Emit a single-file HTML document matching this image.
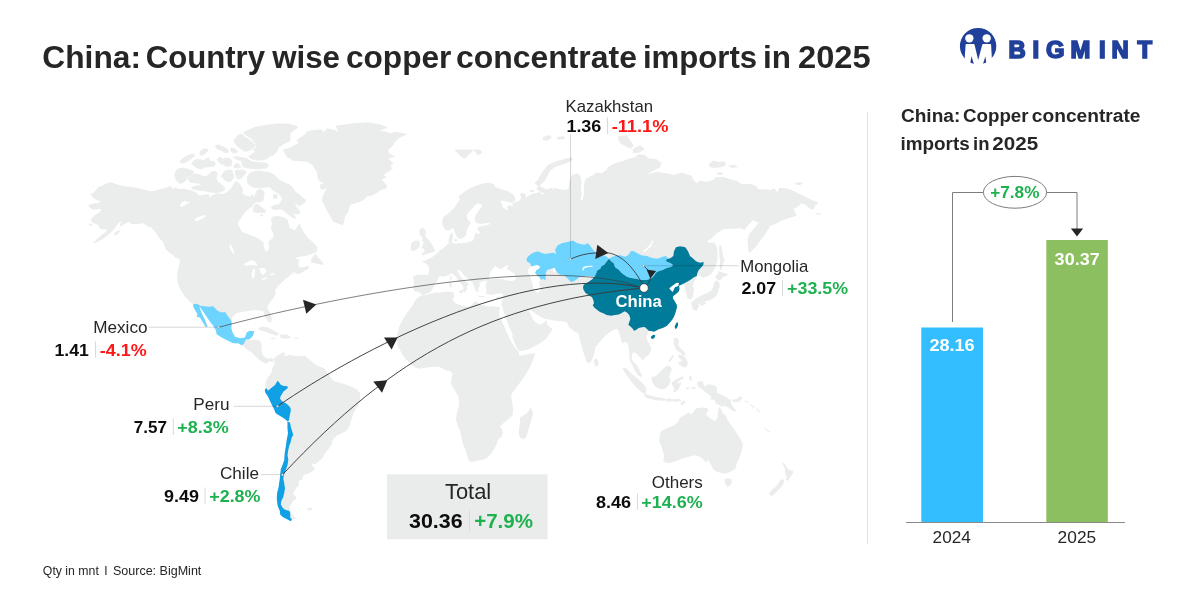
<!DOCTYPE html>
<html lang="en">
<head>
<meta charset="utf-8">
<title>China: Country wise copper concentrate imports in 2025</title>
<style>
html,body{margin:0;padding:0;background:#fff;}
body{width:1200px;height:600px;overflow:hidden;font-family:"Liberation Sans",sans-serif;}
svg{display:block;}
svg text{font-family:"Liberation Sans",sans-serif;}
</style>
</head>
<body>
<svg width="1200" height="600" viewBox="0 0 1200 600">
<rect width="1200" height="600" fill="#ffffff"/>
<!-- world map -->
<g id="map">
<path d="M282.5 150.0 L290.0 147.5 L298.3 143.3 L296.7 140.0 L305.0 134.2 L307.5 130.8 L321.7 129.2 L323.3 132.5 L326.7 128.3 L335.0 130.0 L338.3 131.7 L335.8 125.8 L353.3 123.3 L368.3 122.2 L380.0 124.2 L387.5 127.5 L380.0 130.8 L386.7 131.7 L390.0 133.3 L396.7 131.7 L407.5 134.2 L400.0 137.5 L395.0 141.7 L393.3 145.0 L388.3 150.0 L389.2 153.3 L395.0 156.7 L388.3 158.3 L393.3 163.3 L390.0 166.7 L393.3 168.3 L388.3 171.7 L383.3 175.0 L386.7 176.7 L381.7 180.0 L386.7 185.0 L386.7 188.3 L380.0 190.8 L373.3 195.0 L366.7 196.7 L363.3 200.0 L360.0 201.7 L350.0 205.0 L348.3 211.7 L345.0 216.7 L343.3 224.2 L341.7 225.0 L333.3 221.7 L328.3 213.3 L325.0 206.7 L321.7 200.0 L323.3 195.0 L326.7 188.3 L320.0 186.7 L323.3 183.3 L318.3 180.0 L316.7 171.7 L311.7 164.2 L306.7 161.7 L293.3 160.8 L286.7 156.7 L283.3 150.8Z M142.7 189.3 L133.3 187.3 L124.0 186.0 L117.3 184.4 L110.9 182.3 L106.7 183.3 L102.0 185.7 L98.0 187.3 L96.0 190.0 L93.3 192.7 L90.7 193.7 L91.3 196.0 L94.7 198.7 L98.0 200.4 L100.0 200.9 L99.7 202.7 L96.0 203.1 L92.0 204.0 L88.0 205.3 L90.0 208.0 L93.3 209.7 L98.0 209.3 L100.7 208.7 L101.1 210.7 L98.7 212.7 L95.3 214.7 L92.7 217.3 L90.7 220.0 L92.7 222.7 L96.0 224.0 L98.7 225.3 L99.3 228.0 L101.3 229.3 L104.7 229.3 L107.3 230.0 L104.7 232.7 L101.3 235.3 L97.3 238.7 L94.0 242.0 L93.1 243.6 L94.7 243.3 L98.7 241.3 L102.7 239.1 L106.7 236.0 L110.0 233.3 L113.3 230.0 L116.0 226.7 L118.4 223.3 L120.0 221.7 L121.3 222.3 L120.0 224.7 L120.7 226.7 L123.3 224.7 L126.7 223.1 L128.3 221.7 L130.0 222.7 L130.7 224.0 L133.3 224.0 L138.7 224.0 L142.7 223.3 L145.3 224.7 L148.0 226.7 L150.7 227.3 L153.3 230.0 L156.0 232.7 L158.0 236.0 L160.0 239.3 L162.7 241.3 L164.0 244.7 L165.3 248.7 L170.0 253.3 L173.3 255.0 L177.5 260.8 L175.8 256.7 L180.0 260.0 L179.2 265.0 L177.5 271.7 L177.0 278.3 L178.3 285.0 L180.8 290.0 L185.0 296.7 L190.0 301.7 L193.3 304.2 L193.3 306.7 L195.0 310.0 L197.5 314.2 L196.7 316.7 L200.0 317.5 L202.5 321.7 L205.8 327.0 L207.5 326.7 L205.0 320.0 L201.7 313.3 L199.2 306.7 L200.3 307.5 L203.3 311.7 L206.7 316.7 L210.0 321.7 L213.3 325.8 L215.8 330.0 L216.7 334.2 L221.7 337.5 L226.7 340.0 L233.3 343.3 L238.3 343.3 L241.7 345.3 L241.7 345.0 L246.7 349.2 L251.7 352.5 L255.8 356.7 L259.2 360.0 L263.3 362.5 L266.7 363.7 L269.2 361.3 L272.5 361.7 L275.0 364.2 L274.2 359.7 L271.7 358.0 L268.3 358.7 L265.0 357.5 L262.5 354.2 L261.3 350.0 L262.0 345.0 L260.0 340.8 L255.0 339.7 L250.0 340.0 L248.3 338.3 L250.8 338.3 L253.3 335.0 L254.2 331.3 L250.0 330.8 L246.7 332.5 L245.0 337.5 L240.0 338.3 L235.0 336.7 L232.5 332.5 L231.3 328.3 L231.7 323.3 L232.5 316.7 L236.7 313.0 L243.3 311.7 L250.0 310.8 L255.0 310.0 L260.0 310.8 L263.0 311.3 L264.2 314.2 L265.8 318.3 L268.3 321.7 L270.8 322.5 L272.0 319.2 L270.8 314.2 L268.7 310.0 L267.0 307.0 L269.2 303.3 L273.3 298.3 L275.8 293.3 L275.0 290.0 L278.3 285.8 L281.7 282.5 L285.0 279.2 L288.3 276.7 L293.3 273.3 L297.5 271.7 L288.3 276.7 L293.3 271.7 L295.8 272.8 L297.5 274.5 L303.3 271.7 L309.2 268.3 L308.3 265.8 L301.7 267.5 L299.2 266.7 L298.3 263.3 L300.0 260.0 L295.0 258.3 L293.3 258.3 L300.0 256.7 L306.7 255.8 L313.3 253.3 L316.7 251.7 L317.5 247.5 L313.3 242.5 L308.3 238.3 L305.0 234.2 L301.7 228.3 L299.2 223.3 L295.8 229.2 L293.3 230.0 L290.8 227.5 L290.0 228.7 L288.7 224.0 L287.3 219.3 L283.3 217.3 L278.0 216.0 L272.7 216.4 L271.3 218.0 L271.3 222.0 L272.0 223.3 L270.8 228.3 L273.3 233.3 L273.3 237.5 L268.3 241.7 L269.2 248.3 L266.7 252.0 L264.2 248.3 L263.3 241.7 L256.7 237.5 L248.3 234.2 L241.7 231.7 L238.3 225.0 L238.0 222.0 L242.0 216.7 L244.7 212.7 L247.3 210.0 L251.3 207.3 L254.7 203.3 L256.7 202.0 L259.3 202.7 L263.3 200.7 L264.0 196.7 L264.7 192.7 L262.0 189.3 L256.7 190.0 L255.3 194.0 L253.7 196.7 L252.0 194.0 L250.0 196.7 L244.7 195.3 L242.0 192.7 L243.3 190.0 L242.0 187.3 L239.3 183.3 L236.0 180.7 L234.0 183.3 L230.7 188.7 L227.3 192.0 L223.3 194.0 L216.7 193.3 L212.0 195.3 L210.0 198.0 L208.7 194.0 L203.3 195.1 L198.7 195.3 L196.7 192.7 L190.0 190.0 L183.3 188.7 L178.0 189.3 L176.0 187.3 L172.7 188.7 L170.7 185.7 L168.0 187.1 L162.7 188.7 L157.3 190.0 L153.3 191.3 L149.3 191.1Z M272.7 194.7 L276.0 193.7 L278.0 196.0 L276.7 198.7 L273.3 198.7Z M260.0 214.7 L262.7 214.0 L263.3 216.0 L260.7 216.7Z M319.3 185.3 L322.0 184.0 L325.3 185.3 L326.0 188.0 L323.3 190.0 L320.7 189.3Z M88.7 224.0 L92.0 223.6 L92.3 225.3 L89.1 225.7Z M114.0 233.3 L118.7 230.0 L120.0 231.3 L116.7 235.3 L114.4 235.3Z M315.0 253.3 L318.3 257.5 L322.5 261.7 L323.3 265.0 L319.2 264.2 L315.0 263.3 L310.8 262.5 L311.7 258.3 L314.2 255.0Z M294.2 337.5 L297.5 337.5 L297.5 338.7 L294.2 338.7Z M270.8 338.0 L275.0 338.0 L275.0 339.2 L270.8 339.2Z M274.2 364.2 L273.3 360.0 L276.7 355.8 L280.0 354.2 L283.3 352.5 L285.0 352.5 L284.2 356.7 L288.3 355.0 L293.3 355.8 L300.0 356.3 L305.0 355.8 L306.7 357.5 L310.0 360.0 L315.0 364.2 L320.0 366.7 L324.2 368.3 L328.3 373.3 L330.8 377.5 L333.3 380.8 L338.3 382.5 L345.0 384.2 L351.7 386.7 L357.5 390.0 L360.0 393.3 L360.0 400.0 L357.5 406.7 L353.3 413.3 L352.5 416.7 L350.8 421.7 L349.2 426.7 L346.7 430.8 L341.7 433.3 L336.7 435.8 L332.5 440.0 L331.7 444.2 L329.2 448.3 L325.0 453.3 L322.5 458.3 L318.3 461.7 L315.0 464.2 L311.7 463.3 L312.5 466.7 L315.0 467.5 L313.3 470.8 L309.2 473.3 L305.0 474.2 L302.5 476.7 L303.3 479.2 L300.0 480.0 L298.3 482.5 L299.2 485.0 L295.8 488.3 L294.2 491.7 L293.7 491.5 L293.1 494.4 L296.0 496.2 L296.0 499.1 L293.1 500.8 L291.3 504.3 L289.6 506.7 L290.2 510.2 L292.5 514.8 L294.8 517.8 L297.2 518.3 L293.7 519.5 L291.9 519.5 L290.8 521.3 L286.7 518.9 L283.2 517.2 L280.3 514.8 L279.7 510.2 L277.9 506.7 L277.3 503.2 L276.8 498.5 L277.1 492.7 L278.5 488.0 L279.1 483.3 L279.7 479.8 L280.3 474.0 L280.8 469.3 L282.6 464.7 L284.3 460.0 L284.7 453.3 L285.8 446.7 L286.7 440.0 L288.0 433.3 L287.5 428.3 L287.5 421.7 L285.0 419.2 L280.0 415.8 L275.8 412.5 L272.5 406.7 L270.0 400.0 L267.5 393.3 L265.8 389.2 L265.0 385.8 L265.8 381.7 L267.5 377.5 L270.0 375.0 L271.7 371.7 L272.5 368.3Z M307.1 509.0 L310.0 507.6 L312.9 508.4 L311.2 510.2 L307.7 510.4Z M489.3 182.7 L493.3 184.0 L496.0 187.3 L501.3 189.3 L508.0 191.3 L513.3 194.7 L515.3 198.0 L514.7 201.3 L512.0 202.7 L508.0 202.0 L504.0 200.9 L500.0 200.4 L502.0 204.0 L502.7 207.3 L506.7 210.0 L508.0 209.3 L506.7 206.7 L509.3 205.3 L513.3 206.7 L512.0 204.0 L516.0 202.0 L519.3 200.7 L521.3 198.0 L520.0 194.0 L523.3 192.7 L526.0 194.7 L525.3 198.0 L528.0 196.0 L532.0 194.0 L537.3 192.7 L540.0 192.0 L541.7 194.2 L546.7 192.5 L551.7 190.0 L555.0 193.3 L553.3 187.5 L556.7 188.3 L563.3 190.0 L568.3 189.2 L569.2 183.3 L570.0 178.3 L573.3 173.3 L573.3 175.0 L576.7 173.3 L580.0 175.0 L581.7 181.7 L580.8 188.3 L581.7 195.0 L580.0 200.8 L582.5 200.0 L584.2 193.3 L583.7 186.7 L585.0 180.0 L586.7 178.3 L593.3 175.0 L596.7 172.5 L601.7 173.3 L606.7 170.0 L608.3 166.7 L615.0 163.3 L623.3 160.8 L630.0 158.3 L635.0 157.5 L638.3 154.2 L645.0 155.0 L648.3 158.3 L656.7 159.2 L661.7 163.3 L660.0 167.5 L656.7 169.2 L653.3 170.8 L646.7 174.2 L656.7 172.0 L666.7 173.3 L673.3 175.0 L681.7 172.5 L686.7 174.2 L691.7 175.8 L693.3 180.0 L696.7 183.3 L700.0 180.8 L706.7 181.7 L713.3 180.0 L715.0 177.5 L723.3 176.7 L730.0 179.2 L736.7 180.8 L741.7 184.2 L750.0 183.7 L755.8 185.8 L758.3 189.2 L765.0 189.2 L770.8 190.0 L774.2 188.3 L777.5 192.5 L779.2 188.0 L786.7 188.3 L793.3 190.8 L800.0 194.2 L806.7 197.5 L811.7 200.0 L816.7 201.7 L818.3 203.7 L815.0 205.8 L813.3 209.7 L809.2 208.3 L805.0 204.2 L800.8 203.3 L798.3 206.7 L793.3 209.2 L795.0 211.7 L796.7 215.8 L793.3 216.7 L788.3 218.3 L781.7 220.8 L775.0 224.2 L770.0 225.8 L768.3 229.2 L764.2 235.8 L760.0 240.8 L756.7 245.8 L751.7 250.8 L749.2 253.3 L748.0 248.3 L747.5 240.0 L749.2 234.2 L753.3 229.2 L758.3 223.3 L763.3 217.5 L765.8 216.7 L763.3 220.8 L756.7 222.5 L753.3 220.0 L750.0 223.3 L746.7 226.7 L745.0 230.0 L740.0 228.3 L733.3 228.7 L723.3 229.2 L716.7 233.3 L711.7 238.3 L706.7 241.7 L710.0 243.0 L713.3 242.3 L716.0 245.0 L717.3 249.0 L717.7 254.3 L717.3 259.7 L716.0 265.0 L714.0 269.7 L711.3 273.7 L708.0 276.3 L704.0 277.7 L701.3 277.0 L698.7 275.0 L697.1 276.3 L694.9 280.3 L692.7 285.7 L694.0 290.3 L693.3 294.3 L692.7 297.7 L690.0 299.7 L687.3 298.3 L686.7 294.3 L685.3 291.0 L685.3 287.7 L684.0 285.0 L681.3 284.7 L679.1 285.7 L679.5 289.3 L678.7 291.6 L676.0 294.0 L673.3 296.0 L672.7 298.0 L674.7 301.3 L676.7 304.7 L677.3 308.7 L677.1 306.7 L676.3 310.0 L675.3 313.3 L674.0 316.7 L672.0 320.0 L669.3 323.3 L666.7 326.0 L662.7 328.0 L658.7 329.3 L656.0 330.7 L654.0 331.7 L652.0 331.3 L649.3 331.3 L647.3 334.0 L646.7 337.3 L647.3 340.7 L649.3 344.0 L651.3 348.0 L650.7 352.0 L648.0 355.3 L644.7 358.0 L642.7 360.7 L640.7 358.0 L638.0 355.3 L635.3 352.7 L633.3 352.0 L631.6 355.3 L632.0 359.3 L634.0 362.7 L636.7 364.7 L638.7 368.7 L640.7 372.7 L642.0 376.0 L641.3 377.3 L638.0 375.3 L635.3 371.3 L633.3 367.3 L631.3 363.3 L629.7 360.7 L629.3 354.0 L628.7 347.3 L627.3 342.7 L625.3 342.0 L622.7 343.3 L621.3 340.7 L620.0 336.0 L618.7 331.3 L616.7 328.7 L613.3 330.0 L610.0 332.0 L606.0 335.3 L602.0 339.3 L598.7 343.3 L595.3 347.3 L594.7 351.3 L593.3 356.7 L591.3 361.3 L588.7 363.3 L586.7 362.0 L584.7 356.7 L582.7 350.0 L580.7 343.3 L579.3 336.7 L578.0 332.7 L575.3 332.0 L572.7 330.0 L570.0 328.0 L568.0 325.3 L566.7 322.0 L561.3 321.3 L556.0 320.7 L550.7 320.0 L546.7 318.7 L545.3 318.9 L541.3 317.3 L537.3 314.7 L533.3 312.0 L530.0 309.3 L528.9 310.4 L530.5 314.1 L532.5 318.4 L534.7 321.5 L537.3 323.5 L540.7 324.5 L543.7 322.7 L546.0 320.8 L546.5 319.7 L547.3 324.0 L549.3 326.7 L552.7 328.7 L550.7 332.0 L548.0 336.0 L545.3 340.0 L546.7 338.3 L540.0 343.3 L533.3 346.7 L526.7 350.0 L519.2 351.3 L518.3 350.0 L515.8 345.8 L512.5 338.3 L512.7 334.7 L510.0 329.3 L508.0 324.0 L506.0 318.7 L504.0 312.7 L502.4 306.7 L501.3 304.0 L502.4 300.0 L503.3 296.0 L502.7 294.0 L500.0 293.3 L495.3 294.0 L490.7 294.9 L486.0 293.3 L486.7 290.0 L485.3 286.0 L486.7 282.0 L488.0 280.0 L486.7 281.3 L484.0 280.7 L481.3 282.0 L479.3 283.3 L480.0 286.0 L478.0 288.0 L478.7 290.7 L477.3 292.7 L475.3 290.0 L474.0 286.7 L472.7 283.3 L470.7 280.7 L467.3 278.0 L464.0 275.3 L461.3 272.0 L458.7 269.3 L457.3 270.0 L458.7 273.3 L460.7 276.7 L464.0 280.0 L467.3 282.7 L469.3 284.7 L467.3 285.3 L466.7 286.7 L467.3 288.7 L466.0 290.7 L464.7 292.7 L463.3 290.7 L463.3 286.0 L461.3 284.0 L458.7 281.3 L456.7 278.0 L455.3 276.0 L453.3 274.0 L451.3 273.3 L449.3 274.7 L446.0 276.0 L442.7 276.7 L440.0 276.0 L438.7 277.3 L437.3 280.7 L434.9 284.0 L433.3 287.3 L432.0 290.0 L429.3 292.7 L425.3 294.0 L422.0 295.6 L420.0 292.7 L417.3 292.0 L414.0 291.3 L413.3 287.3 L414.0 283.3 L413.3 279.3 L413.3 276.0 L418.7 274.7 L424.0 274.7 L428.0 274.7 L428.7 272.7 L429.3 268.7 L428.0 265.3 L425.3 263.3 L422.0 261.3 L426.7 260.0 L428.7 258.7 L432.0 257.3 L435.3 254.7 L438.0 252.7 L440.0 250.0 L442.7 248.7 L446.7 245.3 L448.7 243.3 L448.7 241.3 L449.1 236.0 L451.3 232.4 L453.1 234.0 L452.7 238.0 L452.0 242.7 L454.0 243.1 L456.0 244.0 L458.7 243.1 L461.3 243.3 L465.3 242.7 L469.3 242.0 L472.7 240.7 L474.0 238.0 L474.7 235.3 L476.0 232.7 L478.7 234.0 L480.0 232.7 L478.7 230.7 L477.3 228.7 L478.7 226.7 L482.7 226.0 L486.7 225.3 L490.4 224.0 L489.3 222.7 L485.3 223.3 L480.0 224.0 L476.0 222.7 L474.7 220.0 L475.3 216.0 L477.3 212.7 L479.3 209.3 L482.0 206.7 L481.6 204.4 L478.7 203.6 L475.3 204.7 L472.7 208.0 L469.3 211.3 L466.9 215.3 L467.3 219.3 L469.3 220.7 L470.7 223.3 L468.0 227.3 L466.7 231.3 L466.0 235.3 L463.3 238.0 L460.0 239.3 L457.3 237.3 L455.3 234.0 L454.0 230.0 L453.3 228.0 L451.3 229.3 L448.0 230.7 L444.7 229.3 L442.7 226.0 L442.0 221.3 L443.3 217.3 L446.7 214.7 L450.7 211.3 L454.7 207.3 L457.3 203.3 L460.0 199.3 L458.7 196.0 L461.3 194.0 L465.3 191.3 L469.3 188.7 L473.3 186.7 L478.7 184.7 L484.0 183.3Z M420.0 296.0 L424.0 295.3 L429.3 294.0 L434.7 292.7 L442.7 292.0 L450.7 291.6 L454.0 292.7 L454.0 296.7 L452.7 299.3 L454.0 302.0 L457.3 304.0 L461.3 305.3 L464.0 307.3 L462.7 304.7 L466.7 306.7 L470.7 306.0 L473.3 302.7 L476.0 301.3 L477.3 302.7 L481.3 304.7 L485.3 306.0 L489.3 306.7 L493.3 306.0 L497.3 307.3 L500.0 306.7 L499.7 308.3 L499.2 315.8 L502.5 322.5 L505.8 330.0 L508.3 335.8 L511.7 342.5 L515.0 347.5 L518.3 351.7 L519.3 354.2 L519.2 355.8 L525.0 355.0 L530.0 353.7 L535.0 353.0 L534.2 356.7 L531.7 363.3 L528.3 370.0 L524.2 376.7 L520.0 382.5 L515.8 388.3 L513.0 391.7 L511.2 395.3 L511.7 400.0 L512.5 405.0 L513.3 410.0 L512.5 415.8 L508.3 419.2 L503.3 423.3 L500.0 426.7 L501.7 428.3 L502.8 432.5 L501.7 436.7 L498.3 439.2 L496.7 444.2 L494.2 449.2 L490.8 454.2 L486.7 458.3 L481.7 460.0 L476.7 460.8 L471.7 462.0 L469.2 460.8 L467.5 456.7 L465.8 450.8 L463.3 445.0 L461.7 438.3 L460.0 430.8 L457.5 425.0 L455.8 419.2 L456.7 413.3 L458.3 408.3 L459.2 403.3 L458.3 396.7 L455.8 391.7 L452.5 386.7 L450.0 381.7 L450.8 382.5 L451.7 378.3 L452.5 373.3 L450.0 370.8 L446.7 370.8 L442.5 368.3 L438.3 366.7 L433.3 366.7 L426.7 367.5 L420.0 368.7 L415.0 367.5 L410.8 364.2 L406.7 360.0 L402.5 355.0 L400.0 350.0 L397.5 345.0 L396.7 338.3 L397.5 333.3 L399.2 326.7 L402.5 320.0 L406.7 313.3 L411.7 306.7 L412.7 304.7 L416.0 299.3Z M530.8 407.5 L533.0 412.5 L532.5 415.8 L530.8 421.7 L529.2 427.5 L527.5 433.3 L525.8 437.5 L523.3 439.2 L520.0 437.5 L518.7 433.3 L519.2 428.3 L520.0 423.3 L520.0 417.5 L524.2 415.0 L527.5 412.5 L529.7 409.2Z M419.3 232.0 L420.0 228.7 L423.3 228.1 L425.3 230.0 L426.0 232.7 L424.7 235.3 L426.7 238.0 L429.3 240.7 L431.3 243.3 L433.3 247.3 L435.3 250.0 L434.0 252.0 L430.7 252.7 L426.7 254.0 L422.0 255.3 L421.3 254.0 L424.7 251.3 L424.0 248.7 L421.3 248.0 L422.7 244.7 L424.0 242.7 L422.0 240.7 L422.7 238.0 L420.0 235.3Z M411.3 243.3 L414.7 240.7 L418.7 240.4 L420.0 243.3 L419.3 247.3 L416.0 250.0 L412.0 251.3 L410.7 248.7Z M543.3 136.7 L550.0 135.0 L551.7 138.3 L546.7 140.8 L542.5 139.7Z M556.7 137.0 L564.2 136.3 L565.0 138.7 L557.5 139.7Z M728.3 165.0 L735.0 165.0 L738.3 167.0 L731.7 168.0Z M716.7 172.5 L721.7 172.5 L723.3 174.7 L717.5 174.7Z M795.0 183.3 L799.2 182.0 L803.3 183.3 L800.0 185.0 L795.8 184.7Z M815.0 213.0 L820.0 213.0 L821.0 214.7 L815.8 214.3Z M720.0 244.3 L721.3 246.3 L722.4 251.7 L723.3 257.0 L724.7 260.3 L723.3 262.3 L722.4 266.3 L721.6 269.7 L720.0 270.3 L719.7 266.3 L720.0 261.0 L719.3 255.7 L719.1 250.3 L719.3 246.3Z M718.7 271.0 L721.3 272.3 L725.3 273.3 L728.0 274.3 L726.0 276.3 L722.7 277.3 L720.7 279.7 L718.7 281.0 L716.7 279.0 L715.3 277.0 L717.3 274.3Z M691.5 303.5 L697.0 302.5 L699.0 306.0 L696.5 311.0 L692.5 309.0Z M699.5 303.5 L705.0 301.5 L706.0 304.0 L701.0 306.0Z M650.9 336.0 L653.3 334.4 L654.9 335.7 L654.0 338.0 L652.0 338.7Z M674.4 326.0 L676.7 322.7 L678.0 323.3 L677.3 326.7 L675.7 329.1Z M594.0 359.3 L596.7 358.7 L598.7 362.0 L598.0 365.3 L596.0 366.7 L594.3 364.0Z M651.3 377.3 L656.0 376.0 L660.0 372.0 L664.0 368.0 L667.3 365.3 L670.7 366.7 L672.0 369.3 L670.0 373.3 L669.3 377.3 L670.7 381.3 L668.7 385.3 L665.3 388.7 L661.3 389.3 L657.3 388.0 L654.0 385.3 L652.0 381.3Z M689.1 376.7 L691.3 376.0 L692.0 380.0 L690.0 380.7Z M685.8 387.5 L689.2 387.5 L689.2 389.2 L685.8 389.2Z M690.8 387.0 L695.8 387.3 L695.8 388.8 L690.8 388.5Z M696.7 382.5 L700.8 380.8 L703.3 382.5 L704.2 386.7 L708.3 384.2 L713.3 385.0 L716.7 387.0 L717.0 392.5 L721.7 395.0 L726.7 397.5 L730.8 400.8 L731.7 405.0 L734.2 408.3 L736.7 411.7 L732.5 410.8 L728.3 407.5 L724.2 405.8 L721.7 406.7 L719.2 405.0 L715.8 403.3 L714.2 400.0 L710.0 399.2 L711.7 396.7 L708.3 394.2 L705.0 391.7 L702.5 389.2 L699.2 387.5 L697.5 385.0Z M745.0 400.0 L748.3 402.5 L747.5 403.3 L744.7 401.0Z M750.0 403.7 L755.0 407.0 L754.2 408.0 L749.7 404.7Z M756.7 408.3 L760.3 411.7 L759.5 412.5 L756.2 409.3Z M764.2 427.5 L770.0 431.7 L769.2 432.5 L764.2 428.7Z M659.2 440.0 L660.0 433.3 L661.7 430.8 L666.7 428.3 L673.3 425.8 L678.3 421.7 L679.2 418.3 L683.3 415.8 L688.3 412.5 L691.7 414.2 L694.2 410.8 L696.7 408.3 L701.7 407.5 L707.5 408.3 L708.3 410.8 L705.8 414.2 L708.3 416.7 L712.5 420.0 L715.8 420.8 L717.5 416.7 L718.0 411.7 L719.2 406.7 L721.7 410.0 L723.3 414.2 L725.8 415.0 L727.5 420.0 L730.8 425.0 L734.2 429.2 L736.7 433.3 L740.0 438.3 L742.5 443.3 L742.5 448.3 L740.8 453.3 L739.2 458.3 L736.7 463.3 L735.8 468.3 L732.5 470.8 L728.3 472.5 L725.0 473.7 L721.7 473.0 L716.7 471.7 L713.3 469.2 L711.7 465.8 L710.0 463.3 L708.3 460.0 L705.8 462.5 L703.3 459.2 L700.0 456.7 L695.0 455.3 L688.3 456.7 L681.7 458.7 L676.7 460.8 L670.0 463.0 L665.0 462.5 L663.3 460.0 L664.2 455.0 L662.5 450.0 L660.8 445.0 L659.2 440.8Z M724.2 479.2 L727.5 478.3 L731.3 478.7 L731.7 482.5 L730.0 485.8 L727.5 487.0 L725.3 484.2Z M782.5 463.3 L784.2 463.0 L786.7 467.5 L789.2 470.0 L793.3 470.8 L792.5 474.2 L790.0 477.5 L788.3 480.8 L785.8 480.0 L786.7 476.7 L785.0 473.3 L785.0 469.2Z M781.7 479.2 L784.2 480.0 L783.3 484.2 L780.8 487.5 L777.5 490.8 L774.2 494.2 L771.7 496.3 L769.2 494.2 L770.8 490.8 L775.0 487.5 L778.3 483.3 L780.0 480.8Z M496.0 297.3 L500.0 296.3 L499.7 297.6 L496.7 298.7Z M478.7 295.7 L484.7 296.3 L484.4 297.3 L478.9 297.1Z M458.7 290.7 L463.3 290.0 L462.7 292.7 L460.0 292.9Z M449.1 282.7 L451.3 282.3 L451.7 287.3 L449.6 287.6Z M450.0 276.0 L451.7 276.4 L451.5 280.4 L450.1 280.0Z M454.0 239.3 L456.7 238.7 L457.3 241.3 L454.7 242.0Z M530.0 190.0 L534.0 190.0 L534.0 192.0 L530.0 192.0Z" fill="#ebecec"/>
<path d="M174.7 174.0 L177.3 169.3 L182.0 168.0 L188.7 169.3 L194.0 172.0 L192.0 174.7 L188.0 176.7 L186.0 180.0 L182.7 182.7 L179.3 183.3 L176.7 180.7 L175.3 177.3Z M188.0 178.7 L192.0 175.3 L196.7 174.0 L202.0 176.0 L206.0 176.7 L208.7 174.7 L211.3 172.0 L215.3 171.3 L217.3 174.0 L216.0 178.0 L217.3 181.3 L220.7 184.0 L223.3 186.7 L225.3 188.7 L223.3 190.7 L219.3 192.0 L215.3 192.7 L210.0 192.0 L204.7 190.7 L198.0 190.0 L192.7 189.3 L191.3 187.3 L196.7 186.0 L201.3 185.3 L200.0 183.3 L194.0 182.7 L190.0 182.0Z M180.0 161.3 L183.3 158.0 L188.7 155.3 L193.3 154.0 L194.7 156.0 L190.7 158.7 L187.3 161.3 L183.3 163.1 L180.7 162.7Z M192.0 163.3 L194.7 160.0 L199.3 159.3 L203.3 160.7 L206.0 158.7 L208.7 158.0 L210.0 161.3 L214.0 161.3 L215.3 164.0 L214.0 166.0 L208.7 166.7 L204.7 167.3 L200.7 168.7 L197.3 168.0 L194.0 166.0Z M200.0 152.0 L202.7 149.3 L206.7 148.7 L208.0 150.7 L205.3 153.3 L202.0 155.3 L200.0 154.7Z M215.3 146.0 L218.0 144.7 L223.3 146.7 L227.3 149.3 L228.7 152.0 L225.3 152.7 L220.7 150.0 L216.7 148.7Z M230.7 148.0 L234.0 148.7 L237.3 150.7 L236.7 152.7 L232.7 152.7 L230.7 150.7Z M217.3 158.7 L220.0 157.3 L223.3 159.3 L226.0 158.0 L230.0 158.7 L232.0 161.3 L231.3 165.3 L227.3 166.7 L223.3 164.7 L220.0 163.3 L218.0 161.3Z M234.0 165.3 L236.7 163.3 L239.3 164.7 L240.7 167.3 L236.7 168.0 L234.0 167.3Z M233.3 157.3 L238.0 156.7 L243.3 158.0 L247.3 158.7 L250.0 160.9 L252.7 162.0 L260.7 162.7 L267.3 163.3 L268.7 166.0 L266.0 168.0 L259.3 168.7 L252.7 168.7 L247.3 168.0 L243.3 166.7 L242.0 164.0 L242.0 160.7 L236.7 159.6Z M234.0 140.0 L238.0 135.3 L242.0 134.0 L244.7 137.3 L248.7 139.3 L252.7 142.7 L255.3 146.0 L252.7 148.7 L248.7 150.7 L244.7 151.3 L240.7 148.7 L236.7 145.3 L234.7 142.7Z M243.3 132.7 L248.7 130.0 L255.3 127.3 L266.0 125.3 L276.7 124.0 L287.3 124.0 L294.0 125.3 L298.0 127.3 L294.0 130.0 L290.0 133.3 L290.0 140.7 L286.0 142.7 L282.0 144.7 L278.7 147.3 L276.7 151.3 L274.0 154.7 L270.0 156.0 L267.3 158.7 L262.0 160.0 L256.7 160.0 L251.3 158.7 L248.7 156.7 L252.0 154.0 L255.3 152.0 L253.3 150.0 L256.7 147.3 L255.3 143.3 L252.7 140.0 L250.0 137.3 L246.0 135.3Z M221.3 176.0 L224.7 171.3 L228.7 170.0 L232.0 170.7 L232.7 174.0 L234.0 176.7 L232.0 180.0 L229.3 182.0 L226.0 180.7 L223.3 178.7Z M235.3 170.7 L240.7 170.0 L244.7 170.7 L246.0 172.7 L243.3 176.0 L240.7 178.7 L237.3 178.7 L236.0 175.3Z M247.3 176.7 L250.0 173.3 L255.3 171.3 L260.7 171.1 L266.0 172.0 L271.3 173.3 L275.3 176.0 L279.3 180.0 L284.7 182.7 L290.0 185.3 L293.3 188.7 L295.3 192.0 L299.3 194.7 L302.7 198.0 L306.0 200.4 L304.0 202.7 L301.3 204.7 L299.3 206.0 L296.0 203.3 L294.0 202.7 L296.7 207.3 L299.3 210.7 L300.0 213.3 L296.7 214.0 L292.7 212.7 L294.0 215.3 L296.0 218.0 L292.7 217.3 L288.7 214.7 L284.7 211.3 L281.3 208.7 L276.7 209.3 L272.7 209.3 L271.1 207.3 L274.0 205.3 L279.3 204.7 L280.7 202.0 L282.7 199.3 L281.3 196.0 L278.0 193.3 L274.7 191.3 L271.3 188.7 L269.3 186.7 L264.7 187.3 L259.3 188.0 L254.0 187.3 L250.0 185.7 L248.0 183.3 L247.3 180.0Z M254.0 206.0 L256.7 204.0 L260.7 206.7 L264.7 210.0 L266.0 212.0 L262.0 212.4 L256.7 212.7 L253.3 211.3Z M259.2 328.0 L263.3 327.0 L268.3 328.0 L273.3 330.8 L278.7 333.8 L276.3 335.3 L270.0 333.0 L264.2 330.8 L259.7 329.7Z M280.0 335.0 L286.7 335.0 L290.8 337.5 L285.0 338.3 L280.8 337.5Z M455.0 150.0 L461.7 156.7 L465.0 158.3 L470.0 153.3 L473.3 150.0Z M474.2 150.0 L478.3 155.0 L481.7 152.5 L480.0 150.0Z M571.7 157.5 L565.0 159.2 L556.7 161.7 L548.3 165.0 L544.2 170.0 L540.8 175.0 L538.3 180.0 L535.0 183.3 L538.3 185.8 L540.0 186.7 L546.7 190.0 L551.7 188.3 L555.0 191.7 L550.0 193.3 L540.0 191.7 L536.7 188.3 L545.0 180.0 L547.5 175.0 L550.0 170.0 L556.7 165.8 L565.0 163.3 L572.5 160.0Z M618.3 136.7 L626.7 135.8 L630.0 140.8 L633.3 145.8 L630.8 148.3 L625.0 145.8 L620.0 142.5Z M633.3 149.2 L640.0 145.8 L644.2 149.2 L638.3 152.5 L633.3 152.5Z M709.2 164.2 L713.3 160.8 L718.3 162.5 L724.2 161.7 L725.8 165.0 L720.0 167.0 L713.3 167.5 L710.0 166.7Z M716.0 281.0 L718.7 282.3 L719.3 286.3 L718.0 290.3 L716.9 294.6 L713.6 297.7 L709.6 299.7 L705.6 301.0 L701.6 302.3 L697.6 304.5 L694.9 305.8 L692.3 306.1 L691.7 303.0 L693.3 301.0 L696.7 298.3 L702.0 295.7 L707.3 293.3 L711.3 291.0 L713.3 287.7 L714.4 283.7 L714.9 281.7Z M623.3 368.0 L626.0 368.7 L630.7 373.3 L635.3 377.3 L640.0 381.3 L644.0 385.3 L646.0 389.3 L645.3 393.3 L642.7 392.7 L638.7 389.3 L634.7 385.3 L630.7 380.0 L626.7 374.7 L624.0 370.7Z M672.0 382.7 L676.0 380.0 L681.3 377.3 L684.0 377.6 L680.0 380.0 L676.7 382.0 L677.3 384.0 L680.7 382.7 L680.0 385.3 L678.0 389.3 L676.0 391.3 L674.0 392.0 L674.7 388.0 L672.7 385.3Z M674.0 338.7 L676.7 338.0 L678.7 340.7 L678.0 344.7 L680.0 348.7 L683.3 351.3 L685.3 354.0 L683.3 355.3 L680.7 352.7 L676.7 350.0 L674.7 345.3Z M678.7 354.9 L682.0 355.7 L685.3 357.3 L684.7 360.0 L681.3 359.3 L678.9 357.3Z M668.7 360.7 L672.7 355.3 L673.6 356.0 L670.0 361.3Z M678.7 362.7 L682.7 360.7 L686.0 359.3 L687.3 362.7 L686.7 366.0 L684.0 367.3 L681.3 365.3 L679.3 364.7Z M645.0 394.2 L650.0 395.8 L656.7 397.5 L663.3 398.7 L666.7 400.0 L661.7 400.3 L655.0 399.7 L648.3 398.0 L644.7 396.3Z M666.7 399.2 L670.8 398.8 L671.7 400.8 L667.5 401.3Z M672.5 399.7 L680.0 399.2 L680.8 400.8 L673.3 401.3Z M680.8 403.0 L684.2 401.0 L685.3 402.3 L681.7 404.7Z M731.7 400.0 L736.7 399.7 L740.0 396.7 L742.0 397.5 L740.0 400.8 L735.0 402.0Z" fill="#ebecec" stroke="#ebecec" stroke-width="0.9" stroke-linejoin="round"/>
<path d="M193.0 304.2 L197.5 303.7 L200.0 305.8 L208.3 306.7 L213.3 306.3 L217.5 310.8 L221.7 312.5 L225.0 312.0 L228.3 316.7 L230.8 320.0 L231.7 323.3 L231.3 328.3 L232.5 332.5 L235.0 336.7 L240.0 338.3 L245.0 337.5 L246.7 332.5 L250.0 330.8 L254.2 331.3 L253.3 335.0 L250.8 338.3 L249.2 339.2 L246.7 339.2 L245.0 340.8 L244.2 343.3 L241.7 345.3 L238.3 343.3 L233.3 343.3 L226.7 340.0 L221.7 337.5 L216.7 334.2 L215.8 330.0 L213.3 325.8 L210.0 321.7 L206.7 316.7 L203.3 311.7 L200.3 307.5 L199.2 306.7 L201.7 313.3 L205.0 320.0 L207.5 326.7 L205.8 327.0 L202.5 321.7 L200.0 317.5 L196.7 316.7 L197.5 314.2 L195.0 310.0 L193.3 306.7Z" fill="#6dd3ff"/>
<path d="M265.0 389.0 L266.5 388.2 L268.0 390.8 L270.0 389.0 L272.5 387.0 L275.0 385.0 L276.5 382.5 L277.8 380.8 L279.5 383.0 L281.0 385.0 L284.0 386.0 L287.5 386.2 L287.8 388.0 L286.0 389.5 L283.5 391.5 L282.0 394.0 L280.5 396.5 L280.0 398.5 L281.0 400.0 L283.0 402.0 L285.5 403.0 L287.5 404.5 L289.0 406.0 L290.5 408.0 L290.8 411.0 L290.0 414.0 L289.5 417.0 L289.0 420.0 L288.0 421.5 L286.0 420.0 L283.5 418.0 L281.0 416.5 L278.5 415.0 L276.2 413.5 L275.0 412.0 L274.5 410.0 L273.0 407.0 L271.5 404.0 L270.0 401.0 L268.5 397.5 L267.0 395.0 L265.5 393.0 L264.8 390.5Z" fill="#10a0e6"/>
<path d="M287.5 421.7 L290.0 422.5 L290.8 426.7 L292.5 432.5 L293.3 435.0 L291.7 437.5 L290.8 441.7 L289.2 445.8 L288.3 450.0 L287.5 455.0 L288.3 460.0 L287.5 465.0 L285.8 470.0 L284.2 474.2 L283.3 478.3 L284.2 483.3 L285.0 488.3 L284.2 493.3 L283.2 497.3 L281.4 500.8 L280.8 504.3 L282.0 506.7 L283.8 509.0 L286.7 510.2 L289.0 510.8 L290.2 512.5 L290.2 517.2 L291.9 519.5 L290.8 521.3 L286.7 518.9 L283.2 517.2 L280.3 514.8 L279.7 510.2 L277.9 506.7 L277.3 503.2 L276.8 498.5 L277.1 492.7 L278.5 488.0 L279.1 483.3 L279.7 479.8 L280.3 474.0 L280.8 469.3 L282.6 464.7 L284.3 460.0 L284.7 453.3 L285.8 446.7 L286.7 440.0 L288.0 433.3 L287.5 428.3Z" fill="#10a0e6"/>
<path d="M526.3 260.0 L527.7 256.7 L531.0 254.0 L535.0 252.0 L538.3 251.6 L541.7 252.9 L545.7 254.0 L549.7 253.3 L553.7 252.7 L556.3 254.0 L555.0 250.0 L557.7 245.3 L561.7 243.3 L568.3 241.7 L573.0 240.4 L576.3 242.7 L580.3 244.0 L584.3 244.7 L587.7 243.3 L589.7 245.3 L592.3 248.7 L595.0 252.0 L601.7 254.7 L605.7 256.0 L609.0 258.7 L607.0 261.3 L604.3 264.7 L601.7 266.0 L600.3 268.7 L597.0 270.7 L596.3 273.3 L595.0 276.0 L592.3 276.7 L589.7 276.0 L585.7 276.0 L581.7 276.7 L579.0 277.3 L577.0 279.3 L573.7 281.3 L571.0 282.0 L568.3 279.3 L566.3 277.3 L564.3 275.3 L560.3 274.7 L557.7 273.3 L555.7 270.0 L554.3 268.0 L551.0 268.7 L547.0 270.0 L545.9 272.7 L545.7 276.7 L545.4 280.4 L543.0 278.7 L541.0 280.0 L539.7 277.3 L537.0 275.3 L535.0 272.7 L536.3 270.0 L539.0 268.0 L539.7 266.0 L536.3 265.3 L533.0 266.7 L531.0 266.0 L530.3 263.3 L527.7 262.0Z" fill="#6dd3ff"/>
<path d="M609.0 258.7 L612.3 256.7 L617.7 255.3 L620.0 255.3 L625.3 256.7 L628.7 254.7 L630.7 251.3 L633.3 251.1 L637.3 253.3 L641.3 255.3 L646.7 256.0 L652.0 258.0 L657.3 258.7 L662.7 256.7 L666.0 256.0 L668.0 258.0 L666.0 261.3 L670.7 263.3 L673.3 265.3 L670.7 267.1 L666.7 268.0 L662.7 270.0 L658.7 271.3 L656.0 272.7 L654.0 276.0 L650.7 278.7 L646.7 280.0 L641.3 280.0 L636.0 278.7 L630.7 278.0 L626.7 276.7 L624.0 274.7 L621.3 272.7 L619.0 270.0 L615.0 267.3 L613.7 263.3 L611.0 261.3Z" fill="#6dd3ff"/>
<path d="M609.0 258.7 L611.0 261.3 L613.7 263.3 L615.0 267.3 L619.0 270.0 L621.3 272.7 L624.0 274.7 L626.7 276.7 L630.7 278.0 L636.0 278.7 L641.3 280.0 L646.7 280.0 L650.7 278.7 L654.0 276.0 L656.0 272.7 L658.7 271.3 L662.7 270.0 L666.7 268.0 L670.7 267.1 L673.3 265.3 L670.7 263.3 L666.0 261.3 L666.7 259.3 L670.7 258.0 L673.3 256.0 L674.0 251.3 L676.0 247.3 L680.0 246.3 L685.3 247.3 L688.0 251.3 L690.0 256.0 L693.3 258.7 L696.0 261.3 L700.0 262.7 L703.7 262.0 L703.3 264.9 L700.7 268.0 L698.7 270.0 L697.3 273.3 L696.7 276.0 L694.0 277.3 L691.3 279.3 L688.0 281.3 L685.3 282.7 L681.3 284.7 L679.1 285.7 L679.5 289.3 L678.7 291.6 L676.0 294.0 L673.3 296.0 L672.7 298.0 L674.7 301.3 L676.7 304.7 L677.3 308.7 L677.1 306.7 L676.3 310.0 L675.3 313.3 L674.0 316.7 L672.0 320.0 L669.3 323.3 L666.7 326.0 L662.7 328.0 L658.7 329.3 L656.0 330.7 L654.0 331.7 L652.0 331.3 L648.7 330.7 L646.7 328.7 L644.7 326.9 L642.0 327.3 L638.7 328.0 L636.0 330.0 L634.0 330.7 L632.7 328.7 L630.7 326.7 L628.3 324.7 L629.3 322.0 L630.4 318.7 L629.3 315.3 L627.3 312.7 L624.7 311.3 L621.3 313.3 L618.7 314.4 L614.7 314.9 L611.3 315.7 L606.7 314.9 L603.3 313.3 L600.0 312.0 L597.3 310.0 L594.7 308.0 L592.7 305.3 L594.0 303.3 L593.3 300.0 L592.0 297.3 L588.7 295.3 L585.3 292.7 L583.3 289.3 L582.9 286.0 L583.0 287.3 L583.7 284.7 L588.3 282.0 L592.3 279.3 L595.0 276.0 L596.3 273.3 L597.0 270.7 L600.3 268.7 L601.7 266.0 L604.3 264.7 L607.0 261.3Z" fill="#007b9a"/>
<path d="M650.9 336.7 L653.3 334.7 L655.3 335.3 L654.7 337.6 L652.7 338.9 L651.3 338.4Z" fill="#007b9a"/>
<path d="M674.7 326.7 L676.3 322.7 L678.0 322.4 L678.0 325.3 L676.7 328.3 L675.3 329.1Z" fill="#007b9a"/>
<path d="M243.3 264.2 L250.0 260.8 L253.3 260.3 L257.5 264.2 L256.7 265.8 L251.7 265.0 L246.7 265.8Z M253.0 269.2 L255.0 268.7 L254.7 275.0 L253.7 278.3 L252.0 278.0 L251.7 272.5Z M259.2 268.3 L264.2 268.0 L266.7 270.8 L265.0 273.3 L263.3 275.0 L260.8 273.3 L260.0 270.8Z M260.8 279.2 L266.7 277.0 L267.5 278.3 L263.3 280.3Z M269.2 274.2 L274.2 273.0 L274.7 274.3 L270.0 275.3Z M229.2 245.0 L230.8 244.7 L233.3 250.0 L234.2 253.7 L232.5 253.0 L230.0 248.3Z M180.0 205.3 L182.0 202.0 L185.3 200.7 L186.7 202.0 L190.0 201.7 L189.3 203.3 L186.0 204.0 L184.0 206.0 L181.3 207.1Z M194.2 220.0 L196.7 217.5 L205.0 215.0 L205.8 216.3 L200.0 220.0 L195.8 221.3Z M488.7 277.3 L490.0 273.3 L492.7 268.7 L495.3 266.0 L498.0 268.0 L501.3 269.3 L505.3 266.0 L508.7 265.1 L506.7 268.7 L510.7 271.3 L514.7 274.0 L516.0 278.7 L513.3 280.7 L508.0 280.7 L502.7 279.3 L497.3 278.7 L492.0 279.3 L489.1 279.3Z M527.7 270.0 L530.3 267.3 L533.7 265.7 L537.7 265.3 L540.1 266.7 L539.0 268.7 L536.3 270.0 L535.0 272.7 L537.0 276.0 L539.7 278.0 L540.3 280.7 L539.0 282.7 L539.7 286.0 L541.0 289.3 L539.7 292.0 L537.0 292.7 L534.3 290.7 L533.0 287.3 L532.3 283.3 L531.0 279.3 L529.7 275.3 L527.7 272.7Z M642.7 251.3 L646.0 248.7 L650.0 244.7 L652.7 240.0 L653.3 241.3 L651.3 246.0 L647.3 250.0 L644.0 252.4Z M669.3 288.3 L672.0 286.0 L676.7 282.7 L678.9 283.1 L678.4 286.0 L674.9 287.3 L673.6 290.0 L672.8 292.1 L670.7 290.3Z M582.3 270.0 L583.0 267.3 L585.7 266.0 L592.3 265.7 L593.0 266.7 L587.0 267.3 L584.3 268.4 L583.3 270.7Z M552.6 268.4 L555.0 268.1 L555.5 272.4 L553.7 272.1Z" fill="#ffffff"/>
</g>
<!-- total box -->
<rect x="387" y="474.3" width="160.6" height="65" fill="#eaeceb"/>
<!-- divider -->
<line x1="867.5" y1="112" x2="867.5" y2="544" stroke="#e2e2e2" stroke-width="1"/>
<!-- bar chart -->
<rect x="921.3" y="327.5" width="61.7" height="195" fill="#33bfff"/>
<rect x="1046.3" y="240" width="61.5" height="282.5" fill="#8cbf5f"/>
<line x1="906" y1="522.5" x2="1125" y2="522.5" stroke="#8a8a8a" stroke-width="1"/>
<path d="M952.5 322 V192.5 H983.5 M1046.5 192.5 H1077 V229" fill="none" stroke="#7d7d7d" stroke-width="1"/>
<ellipse cx="1015" cy="192.3" rx="31.6" ry="15.9" fill="#fff" stroke="#7d7d7d" stroke-width="1"/>
<path d="M1070.9 228.6 H1083.1 L1077 236.4 Z" fill="#262626"/>
<!-- logo -->
<g id="logo">
<circle cx="978.1" cy="46.1" r="18.2" fill="#21409a"/>
<circle cx="969.35" cy="38.3" r="4.15" fill="#fff"/>
<circle cx="986.7" cy="38.3" r="4.15" fill="#fff"/>
<path d="M964.2 66 L965.6 44.6 Q965.8 43.9 966.6 43.9 L973.6 43.9 Q974.3 43.9 974.5 44.6 L978.2 60 L982.3 44.6 Q982.5 43.9 983.2 43.9 L990.2 43.9 Q991 43.9 991.1 44.6 L992.3 66 L986.8 66 L985.4 56.5 L982.3 66 L974.5 66 L971.5 56.2 L969.7 66 Z" fill="#fff"/>
</g>
<line x1="607.5" y1="117.5" x2="607.5" y2="134" stroke="#dadada" stroke-width="1"/>
<line x1="782.5" y1="280" x2="782.5" y2="296.3" stroke="#dadada" stroke-width="1"/>
<line x1="95.5" y1="341.3" x2="95.5" y2="357.8" stroke="#dadada" stroke-width="1"/>
<line x1="173.3" y1="418.5" x2="173.3" y2="435" stroke="#dadada" stroke-width="1"/>
<line x1="205" y1="487.5" x2="205" y2="504" stroke="#dadada" stroke-width="1"/>
<line x1="637.5" y1="493.5" x2="637.5" y2="510" stroke="#dadada" stroke-width="1"/>
<line x1="469.6" y1="510.5" x2="469.6" y2="531.5" stroke="#dadada" stroke-width="1"/>

<!-- leader lines -->
<g fill="none" stroke="#000" stroke-opacity="0.2" stroke-width="0.8">
<path d="M570.5 134.5 V259"/>
<path d="M644 265.7 H738.8"/>
<path d="M148.8 327.2 H218"/>
<path d="M233.8 406.3 H277"/>
<path d="M261.3 474.6 H282"/>
</g>
<!-- flow arcs -->
<g fill="none" stroke="#3a3a3a">
<path stroke-width="0.65" d="M218.7 327.3 C320.8 299.8 545 253.8 639.7 286.9"/>
<path stroke-width="0.95" d="M277.5 406.2 C357.6 351.2 521.8 263.1 639.7 287.2"/>
<path stroke-width="0.95" d="M282.5 474.7 C394.8 354.3 493.6 302.6 639.7 288.4"/>
<path stroke-width="0.9" d="M570.4 259.3 C582 253.5 594 252.3 608.3 252.9 C620 255 631 263.5 642.5 284.1"/>
<path stroke-width="0.9" d="M643.5 265.7 L649.5 271.5 M650.3 278 C650 281 648.5 283 647 284.6"/>
</g>
<!-- arrow heads -->
<g fill="#262626">
<path d="M303 299.7 L316.3 304.5 L306.3 313.8 Z"/>
<path d="M384 337.6 L397.6 337.6 L391.6 349.6 Z"/>
<path d="M373.3 381.6 L387.3 380.3 L382 392.7 Z"/>
<path d="M597.3 244.7 L608.3 252.9 L595.3 259.1 Z"/>
<path d="M646.6 269.4 L656.1 271 L650.3 278.4 Z"/>
</g>
<!-- dots -->
<g fill="#ffffff" stroke="#8a8a8a" stroke-width="0.5">
<circle cx="570.4" cy="259.3" r="1"/>
<circle cx="643.5" cy="265.7" r="1"/>
<circle cx="218.7" cy="327.3" r="1"/>
<circle cx="277.5" cy="406.2" r="1"/>
<circle cx="282.5" cy="474.7" r="1"/>
</g>
<circle cx="644" cy="288" r="4.3" fill="#ffffff" stroke="#333" stroke-width="0.7"/>

<text y="67.6" font-size="32" font-weight="bold" fill="#262626"><tspan x="42.33" textLength="98.62" lengthAdjust="spacingAndGlyphs">China:</tspan> <tspan x="145.76" textLength="119.28" lengthAdjust="spacingAndGlyphs">Country</tspan> <tspan x="272.16" textLength="67.82" lengthAdjust="spacingAndGlyphs">wise</tspan> <tspan x="345.89" textLength="105.56" lengthAdjust="spacingAndGlyphs">copper</tspan> <tspan x="455.88" textLength="181.11" lengthAdjust="spacingAndGlyphs">concentrate</tspan> <tspan x="642.98" textLength="114.15" lengthAdjust="spacingAndGlyphs">imports</tspan> <tspan x="762.95" textLength="27.96" lengthAdjust="spacingAndGlyphs">in</tspan> <tspan x="798.02" textLength="72.63" lengthAdjust="spacingAndGlyphs">2025</tspan></text>
<text y="122" font-size="17.6" font-weight="bold" fill="#262626"><tspan x="900.94" textLength="59.34" lengthAdjust="spacingAndGlyphs">China:</tspan> <tspan x="963.05" textLength="65.51" lengthAdjust="spacingAndGlyphs">Copper</tspan> <tspan x="1031.83" textLength="108.67" lengthAdjust="spacingAndGlyphs">concentrate</tspan></text>
<text y="150" font-size="17.6" font-weight="bold" fill="#262626"><tspan x="900.47" textLength="69.21" lengthAdjust="spacingAndGlyphs">imports</tspan> <tspan x="973.00" textLength="16.43" lengthAdjust="spacingAndGlyphs">in</tspan> <tspan x="992.28" textLength="45.86" lengthAdjust="spacingAndGlyphs">2025</tspan></text>
<text x="990.31" y="198.3" font-size="16.5" font-weight="bold" fill="#1db14f" textLength="49.10" lengthAdjust="spacingAndGlyphs">+7.8%</text>
<text x="929.46" y="350.8" font-size="17" font-weight="bold" fill="#ffffff" textLength="45.19" lengthAdjust="spacingAndGlyphs">28.16</text>
<text x="1054.64" y="264.6" font-size="17" font-weight="bold" fill="#ffffff" textLength="45.10" lengthAdjust="spacingAndGlyphs">30.37</text>
<text x="932.64" y="543" font-size="16.8" font-weight="normal" fill="#262626" textLength="38.31" lengthAdjust="spacingAndGlyphs">2024</text>
<text x="1057.63" y="543" font-size="16.8" font-weight="normal" fill="#262626" textLength="38.58" lengthAdjust="spacingAndGlyphs">2025</text>
<text x="565.56" y="112.3" font-size="15.9" font-weight="normal" fill="#262626" textLength="87.46" lengthAdjust="spacingAndGlyphs">Kazakhstan</text>
<text x="566.42" y="131.8" font-size="16.8" font-weight="bold" fill="#0d0d0d" textLength="34.93" lengthAdjust="spacingAndGlyphs">1.36</text>
<text x="611.66" y="131.8" font-size="16.8" font-weight="bold" fill="#ff1616" textLength="56.78" lengthAdjust="spacingAndGlyphs">-11.1%</text>
<text x="740.26" y="271.5" font-size="15.9" font-weight="normal" fill="#262626" textLength="67.98" lengthAdjust="spacingAndGlyphs">Mongolia</text>
<text x="741.47" y="293.8" font-size="16.8" font-weight="bold" fill="#0d0d0d" textLength="34.67" lengthAdjust="spacingAndGlyphs">2.07</text>
<text x="787.09" y="293.8" font-size="16.8" font-weight="bold" fill="#1db14f" textLength="60.94" lengthAdjust="spacingAndGlyphs">+33.5%</text>
<text x="93.23" y="332.9" font-size="15.9" font-weight="normal" fill="#262626" textLength="54.28" lengthAdjust="spacingAndGlyphs">Mexico</text>
<text x="54.44" y="355.5" font-size="16.8" font-weight="bold" fill="#0d0d0d" textLength="34.32" lengthAdjust="spacingAndGlyphs">1.41</text>
<text x="99.87" y="355.5" font-size="16.8" font-weight="bold" fill="#ff1616" textLength="46.86" lengthAdjust="spacingAndGlyphs">-4.1%</text>
<text x="193.23" y="410.4" font-size="15.9" font-weight="normal" fill="#262626" textLength="36.21" lengthAdjust="spacingAndGlyphs">Peru</text>
<text x="133.82" y="432.5" font-size="16.8" font-weight="bold" fill="#0d0d0d" textLength="33.18" lengthAdjust="spacingAndGlyphs">7.57</text>
<text x="177.28" y="432.5" font-size="16.8" font-weight="bold" fill="#1db14f" textLength="51.45" lengthAdjust="spacingAndGlyphs">+8.3%</text>
<text x="219.94" y="478.7" font-size="15.9" font-weight="normal" fill="#262626" textLength="39.06" lengthAdjust="spacingAndGlyphs">Chile</text>
<text x="163.96" y="501.8" font-size="16.8" font-weight="bold" fill="#0d0d0d" textLength="34.99" lengthAdjust="spacingAndGlyphs">9.49</text>
<text x="209.29" y="501.8" font-size="16.8" font-weight="bold" fill="#1db14f" textLength="51.15" lengthAdjust="spacingAndGlyphs">+2.8%</text>
<text x="651.73" y="487.8" font-size="15.9" font-weight="normal" fill="#262626" textLength="51.06" lengthAdjust="spacingAndGlyphs">Others</text>
<text x="596.06" y="507.8" font-size="16.8" font-weight="bold" fill="#0d0d0d" textLength="35.09" lengthAdjust="spacingAndGlyphs">8.46</text>
<text x="641.28" y="507.8" font-size="16.8" font-weight="bold" fill="#1db14f" textLength="61.35" lengthAdjust="spacingAndGlyphs">+14.6%</text>
<text x="444.96" y="499" font-size="21.3" font-weight="normal" fill="#262626" textLength="46.30" lengthAdjust="spacingAndGlyphs">Total</text>
<text x="408.97" y="528.2" font-size="21" font-weight="bold" fill="#0d0d0d" textLength="53.60" lengthAdjust="spacingAndGlyphs">30.36</text>
<text x="474.18" y="528.2" font-size="21" font-weight="bold" fill="#1db14f" textLength="58.82" lengthAdjust="spacingAndGlyphs">+7.9%</text>
<text x="615.53" y="307" font-size="17" font-weight="bold" fill="#ffffff" textLength="46.32" lengthAdjust="spacingAndGlyphs">China</text>
<text x="42.85" y="574.7" font-size="12.4" font-weight="normal" fill="#262626" textLength="55.99" lengthAdjust="spacingAndGlyphs">Qty in mnt</text>
<text x="104.32" y="574.7" font-size="12.4" font-weight="normal" fill="#262626" textLength="3.33" lengthAdjust="spacingAndGlyphs">I</text>
<text x="112.94" y="574.7" font-size="12.4" font-weight="normal" fill="#262626" textLength="88.40" lengthAdjust="spacingAndGlyphs">Source: BigMint</text>
<text x="1008.40 1032.60 1045.90 1070.60 1099.00 1111.60 1137.61" y="57.75" font-size="23.8" font-weight="bold" fill="#21409a" stroke="#21409a" stroke-width="1.7" stroke-linejoin="miter">BIGMINT</text>
</svg>
</body>
</html>
